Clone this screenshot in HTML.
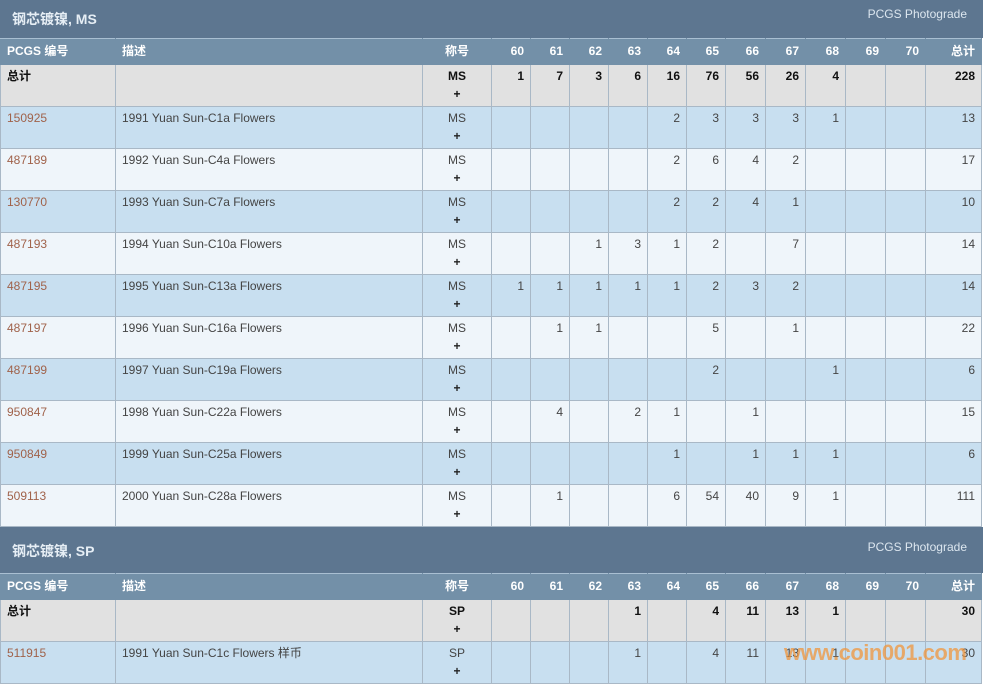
<!DOCTYPE html>
<html><head><meta charset="utf-8"><style>
*{margin:0;padding:0;box-sizing:border-box}
body{width:983px;height:682px;overflow:hidden;background:#fff;font-family:"Liberation Sans","Noto Sans CJK SC",sans-serif;font-size:12px;color:#444;position:relative}
.title{height:38px;background:#5d7690;color:#e6eef5;position:relative}
.title b{position:absolute;left:12px;top:9px;font-size:14px}
.title span{position:absolute;right:16px;top:7px;font-size:12px;color:#dce6ef}
table{border-collapse:collapse;table-layout:fixed;width:981px}
td,th{border:1px solid #a9b8c6;vertical-align:top;padding:2px 6px 0 6px;line-height:18px;white-space:nowrap;overflow:hidden}
th{background:#7390a8;color:#fff;height:26px;text-align:right;border-color:#7390a8;border-top:1px solid #a9bfd2;padding-top:3px;font-weight:bold}
th.l{text-align:left}th.c{text-align:center}
tr.r td{height:42px}
tr.t td{background:#e1e1e1;font-weight:bold;color:#111}
tr.a td{background:#c8dff0}
tr.b td{background:#eff5fa}
td{text-align:right}
td.l{text-align:left}td.c{text-align:center;line-height:18px}
td.c b{color:#222}
td.id{color:#a0624a}
.wm{position:absolute;left:784px;top:640px;font-size:22px;font-weight:bold;color:rgba(240,150,60,0.75);letter-spacing:-0.5px}
</style></head><body>
<div class="title"><b>钢芯镀镍, MS</b><span>PCGS Photograde</span></div>
<table>
<colgroup><col style="width:115px"><col style="width:307px"><col style="width:69px"><col style="width:39px"><col style="width:39px"><col style="width:39px"><col style="width:39px"><col style="width:39px"><col style="width:39px"><col style="width:40px"><col style="width:40px"><col style="width:40px"><col style="width:40px"><col style="width:40px"><col style="width:56px"></colgroup>
<tr><th class="l">PCGS 编号</th><th class="l">描述</th><th class="c">称号</th><th>60</th><th>61</th><th>62</th><th>63</th><th>64</th><th>65</th><th>66</th><th>67</th><th>68</th><th>69</th><th>70</th><th>总计</th></tr>
<tr class="r t"><td class="l">总计</td><td></td><td class="c">MS<br>+</td><td>1</td><td>7</td><td>3</td><td>6</td><td>16</td><td>76</td><td>56</td><td>26</td><td>4</td><td></td><td></td><td>228</td></tr>
<tr class="r a"><td class="l id">150925</td><td class="l">1991 Yuan Sun-C1a Flowers</td><td class="c">MS<br><b>+</b></td><td></td><td></td><td></td><td></td><td>2</td><td>3</td><td>3</td><td>3</td><td>1</td><td></td><td></td><td>13</td></tr>
<tr class="r b"><td class="l id">487189</td><td class="l">1992 Yuan Sun-C4a Flowers</td><td class="c">MS<br><b>+</b></td><td></td><td></td><td></td><td></td><td>2</td><td>6</td><td>4</td><td>2</td><td></td><td></td><td></td><td>17</td></tr>
<tr class="r a"><td class="l id">130770</td><td class="l">1993 Yuan Sun-C7a Flowers</td><td class="c">MS<br><b>+</b></td><td></td><td></td><td></td><td></td><td>2</td><td>2</td><td>4</td><td>1</td><td></td><td></td><td></td><td>10</td></tr>
<tr class="r b"><td class="l id">487193</td><td class="l">1994 Yuan Sun-C10a Flowers</td><td class="c">MS<br><b>+</b></td><td></td><td></td><td>1</td><td>3</td><td>1</td><td>2</td><td></td><td>7</td><td></td><td></td><td></td><td>14</td></tr>
<tr class="r a"><td class="l id">487195</td><td class="l">1995 Yuan Sun-C13a Flowers</td><td class="c">MS<br><b>+</b></td><td>1</td><td>1</td><td>1</td><td>1</td><td>1</td><td>2</td><td>3</td><td>2</td><td></td><td></td><td></td><td>14</td></tr>
<tr class="r b"><td class="l id">487197</td><td class="l">1996 Yuan Sun-C16a Flowers</td><td class="c">MS<br><b>+</b></td><td></td><td>1</td><td>1</td><td></td><td></td><td>5</td><td></td><td>1</td><td></td><td></td><td></td><td>22</td></tr>
<tr class="r a"><td class="l id">487199</td><td class="l">1997 Yuan Sun-C19a Flowers</td><td class="c">MS<br><b>+</b></td><td></td><td></td><td></td><td></td><td></td><td>2</td><td></td><td></td><td>1</td><td></td><td></td><td>6</td></tr>
<tr class="r b"><td class="l id">950847</td><td class="l">1998 Yuan Sun-C22a Flowers</td><td class="c">MS<br><b>+</b></td><td></td><td>4</td><td></td><td>2</td><td>1</td><td></td><td>1</td><td></td><td></td><td></td><td></td><td>15</td></tr>
<tr class="r a"><td class="l id">950849</td><td class="l">1999 Yuan Sun-C25a Flowers</td><td class="c">MS<br><b>+</b></td><td></td><td></td><td></td><td></td><td>1</td><td></td><td>1</td><td>1</td><td>1</td><td></td><td></td><td>6</td></tr>
<tr class="r b"><td class="l id">509113</td><td class="l">2000 Yuan Sun-C28a Flowers</td><td class="c">MS<br><b>+</b></td><td></td><td>1</td><td></td><td></td><td>6</td><td>54</td><td>40</td><td>9</td><td>1</td><td></td><td></td><td>111</td></tr>
</table>
<div class="title" style="height:46px"><b style="top:14px">钢芯镀镍, SP</b><span style="top:13px">PCGS Photograde</span></div>
<table>
<colgroup><col style="width:115px"><col style="width:307px"><col style="width:69px"><col style="width:39px"><col style="width:39px"><col style="width:39px"><col style="width:39px"><col style="width:39px"><col style="width:39px"><col style="width:40px"><col style="width:40px"><col style="width:40px"><col style="width:40px"><col style="width:40px"><col style="width:56px"></colgroup>
<tr><th class="l">PCGS 编号</th><th class="l">描述</th><th class="c">称号</th><th>60</th><th>61</th><th>62</th><th>63</th><th>64</th><th>65</th><th>66</th><th>67</th><th>68</th><th>69</th><th>70</th><th>总计</th></tr>
<tr class="r t"><td class="l">总计</td><td></td><td class="c">SP<br>+</td><td></td><td></td><td></td><td>1</td><td></td><td>4</td><td>11</td><td>13</td><td>1</td><td></td><td></td><td>30</td></tr>
<tr class="r a"><td class="l id">511915</td><td class="l">1991 Yuan Sun-C1c Flowers 样币</td><td class="c">SP<br><b>+</b></td><td></td><td></td><td></td><td>1</td><td></td><td>4</td><td>11</td><td>13</td><td>1</td><td></td><td></td><td>30</td></tr>
</table>
<div class="wm">www.coin001.com</div>
</body></html>
